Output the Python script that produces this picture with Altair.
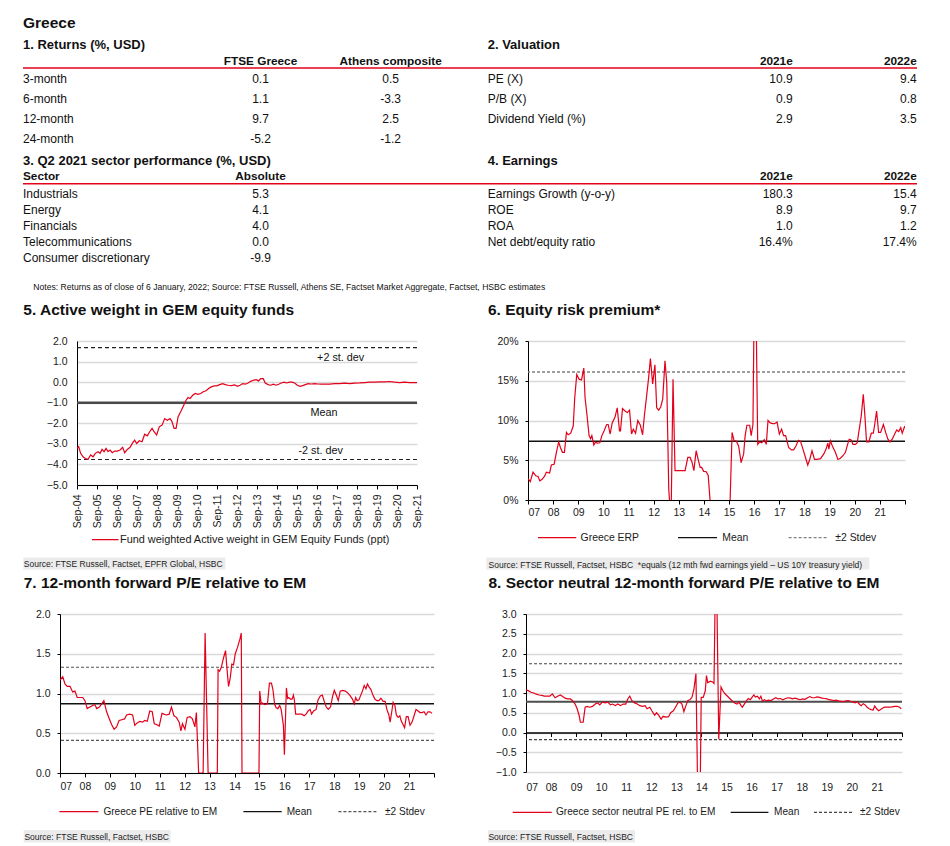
import altair as alt
import pandas as pd

# ----------------------------------------------------------------- data
returns_periods = ["3-month", "6-month", "12-month", "24-month"]
ftse_greece = [0.1, 1.1, 9.7, -5.2]
athens_composite = [0.5, -3.3, 2.5, -1.2]

valuation_items = ["PE (X)", "P/B (X)", "Dividend Yield (%)"]
valuation_2021e = [10.9, 0.9, 2.9]
valuation_2022e = [9.4, 0.8, 3.5]

sectors = ["Industrials", "Energy", "Financials", "Telecommunications", "Consumer discretionary"]
sector_absolute = [5.3, 4.1, 4.0, 0.0, -9.9]

earnings_items = ["Earnings Growth (y-o-y)", "ROE", "ROA", "Net debt/equity ratio"]
earnings_2021e = [180.3, 8.9, 1.0, 16.4]
earnings_2022e = [15.4, 9.7, 1.2, 17.4]
earnings_units = ["", "", "", "%"]

NOTE_TEXT = ("Notes: Returns as of close of 6 January, 2022; Source: FTSE Russell, Athens SE, "
             "Factset Market Aggregate, Factset, HSBC estimates")

# 5. Active weight (ppt), time in decimal years
aw_t = [2004.67, 2004.75, 2004.85, 2004.97, 2005.08, 2005.22, 2005.35, 2005.47, 2005.58, 2005.72,
        2005.82, 2005.92, 2006.02, 2006.12, 2006.22, 2006.32, 2006.43, 2006.55, 2006.68, 2006.82,
        2006.95, 2007.05, 2007.18, 2007.32, 2007.43, 2007.55, 2007.65, 2007.78, 2007.92, 2008.05,
        2008.18, 2008.30, 2008.42, 2008.52, 2008.65, 2008.78, 2008.92, 2009.05, 2009.18, 2009.32,
        2009.42, 2009.52, 2009.62, 2009.72, 2009.85, 2009.98, 2010.12, 2010.22, 2010.32, 2010.45,
        2010.58, 2010.72, 2010.85, 2010.98, 2011.12, 2011.25, 2011.38, 2011.52, 2011.65, 2011.80,
        2011.95, 2012.08, 2012.22, 2012.38, 2012.55, 2012.68, 2012.82, 2012.95, 2013.08, 2013.22,
        2013.35, 2013.48, 2013.62, 2013.75, 2013.85, 2013.98, 2014.08, 2014.22, 2014.35, 2014.48,
        2014.62, 2014.75, 2014.88, 2015.02, 2015.15, 2015.28, 2015.42, 2015.55, 2015.68, 2015.82,
        2015.95, 2016.08, 2016.22, 2016.38, 2016.55, 2016.72, 2016.88, 2017.05, 2017.30, 2017.55,
        2017.80, 2018.05, 2018.30, 2018.55, 2018.80, 2019.05, 2019.30, 2019.55, 2019.80, 2020.05,
        2020.30, 2020.55, 2020.80, 2021.05, 2021.30, 2021.55, 2021.67]
aw_v = [-3.22, -3.14, -3.46, -3.63, -3.71, -3.75, -3.54, -3.63, -3.46, -3.38,
        -3.46, -3.27, -3.38, -3.22, -3.38, -3.30, -3.43, -3.35, -3.35, -3.30,
        -3.17, -3.43, -3.27, -3.17, -2.98, -2.82, -2.98, -2.85, -2.90, -2.53,
        -2.61, -2.41, -2.25, -2.41, -2.57, -2.17, -2.09, -1.77, -1.85, -1.77,
        -1.93, -2.25, -2.25, -1.69, -1.44, -1.17, -0.88, -0.75, -0.80, -0.64,
        -0.55, -0.59, -0.55, -0.47, -0.42, -0.31, -0.23, -0.18, -0.18, -0.12,
        -0.07, -0.12, -0.15, -0.17, -0.13, -0.20, -0.15, -0.07, -0.10, -0.04,
        0.04, 0.09, 0.12, 0.06, 0.17, 0.17, -0.04, -0.12, -0.15, -0.10,
        -0.15, -0.10, -0.04, 0.00, -0.04, 0.00, 0.00, -0.04, -0.15, -0.20,
        -0.17, -0.12, -0.07, -0.09, -0.07, -0.09, -0.10, -0.09, -0.10, -0.07,
        -0.07, -0.05, -0.07, -0.05, -0.04, -0.02, 0.00, 0.00, 0.01, 0.01,
        0.03, 0.00, -0.02, 0.00, -0.02, -0.02, -0.02]
aw_stats = {"mean": -1.0, "up": 1.68, "dn": -3.76}
AW_NAME = "Fund weighted Active weight in GEM Equity Funds (ppt)"

# 6. Equity risk premium (%)
erp_t = [2007.00, 2007.09, 2007.20, 2007.31, 2007.40, 2007.47, 2007.56, 2007.66, 2007.73, 2007.86,
         2007.93, 2008.04, 2008.13, 2008.22, 2008.29, 2008.37, 2008.45, 2008.53, 2008.60, 2008.70,
         2008.80, 2008.86, 2008.94, 2009.03, 2009.13, 2009.22, 2009.27, 2009.35, 2009.43, 2009.49,
         2009.54, 2009.62, 2009.69, 2009.75, 2009.86, 2009.94, 2010.03, 2010.13, 2010.19, 2010.27,
         2010.35, 2010.46, 2010.55, 2010.64, 2010.68, 2010.76, 2010.86, 2010.95, 2011.04, 2011.12,
         2011.19, 2011.28, 2011.37, 2011.47, 2011.56, 2011.63, 2011.72, 2011.80, 2011.87, 2011.96,
         2012.05, 2012.12, 2012.20, 2012.28, 2012.36, 2012.45, 2012.52, 2012.60, 2012.64, 2012.70,
         2012.77, 2012.85, 2013.05, 2013.25, 2013.36, 2013.45, 2013.53, 2013.60, 2013.69, 2013.76,
         2013.85, 2013.91, 2013.99, 2014.09, 2014.17, 2014.25, 2014.60, 2015.04, 2015.12, 2015.20,
         2015.28, 2015.38, 2015.48, 2015.58, 2015.64, 2015.71, 2015.82, 2015.88, 2015.95, 2016.00,
         2016.07, 2016.14, 2016.22, 2016.30, 2016.40, 2016.48, 2016.55, 2016.64, 2016.73, 2016.81,
         2016.91, 2017.00, 2017.09, 2017.17, 2017.25, 2017.37, 2017.48, 2017.57, 2017.66, 2017.76,
         2017.84, 2017.94, 2018.04, 2018.13, 2018.21, 2018.30, 2018.40, 2018.50, 2018.64, 2018.77,
         2018.86, 2018.93, 2018.97, 2019.03, 2019.11, 2019.23, 2019.33, 2019.43, 2019.54, 2019.63,
         2019.70, 2019.78, 2019.86, 2019.93, 2020.03, 2020.10, 2020.16, 2020.26, 2020.34, 2020.40,
         2020.47, 2020.56, 2020.66, 2020.74, 2020.79, 2020.87, 2020.95, 2021.03, 2021.14, 2021.23,
         2021.32, 2021.40, 2021.49, 2021.59, 2021.67, 2021.75, 2021.83, 2021.89, 2021.99]
erp_v = [2.7, 2.3, 3.5, 3.05, 2.95, 2.4, 2.6, 3.0, 3.5, 3.4,
         4.4, 4.5, 6.0, 7.3, 6.6, 6.0, 6.0, 8.5, 8.2, 8.4,
         9.3, 12.9, 15.8, 15.2, 15.1, 16.6, 12.9, 10.6, 8.1, 7.7,
         8.1, 6.9, 7.3, 7.15, 7.2, 8.1, 8.7, 9.5, 9.5, 8.3,
         9.7, 10.4, 11.6, 8.7, 8.7, 11.5, 11.2, 11.0, 11.3, 8.3,
         8.9, 8.4, 10.0, 9.4, 8.2, 10.6, 13.1, 15.4, 17.8, 14.6,
         17.0, 11.6, 11.3, 11.7, 12.7, 17.5, 14.8, 1.4, -0.5, -0.5,
         15.2, 3.7, 3.7, 3.7, 5.35, 5.35, 4.7, 3.7, 6.2, 5.25,
         4.1, 4.1, 3.6, 3.55, 3.1, -0.3, -3.0, -0.3, 8.5, 7.45,
         7.45, 6.8, 4.7, 5.8, 8.1, 9.4, 9.4, 8.1, 9.5, 25.0,
         25.0, 7.0, 7.3, 7.2, 7.6, 7.0, 10.0, 9.7, 9.6, 9.6,
         9.8, 8.3, 8.9, 8.1, 8.1, 6.6, 6.3, 6.3, 6.8, 7.5,
         7.4, 6.4, 5.35, 4.4, 5.1, 6.2, 5.1, 5.1, 5.2, 5.8,
         6.4, 7.15, 6.4, 7.45, 6.8, 6.0, 5.1, 5.25, 5.6, 6.0,
         6.8, 7.65, 7.55, 7.0, 7.0, 7.2, 8.5, 10.6, 13.3, 10.8,
         7.3, 7.3, 8.4, 8.4, 9.4, 11.2, 8.5, 8.5, 9.5, 8.5,
         7.65, 7.3, 7.65, 8.3, 8.8, 8.6, 9.1, 8.4, 9.3]
erp_stats = {"mean": 7.4, "up": 16.1}

# 7. 12m fwd P/E relative to EM
pe_t = [2007.00, 2007.11, 2007.20, 2007.29, 2007.40, 2007.51, 2007.60, 2007.69, 2007.80, 2007.91,
        2008.00, 2008.09, 2008.20, 2008.31, 2008.40, 2008.47, 2008.58, 2008.67, 2008.76, 2008.87,
        2008.98, 2009.07, 2009.17, 2009.27, 2009.37, 2009.48, 2009.59, 2009.67, 2009.80, 2009.91,
        2010.00, 2010.10, 2010.20, 2010.31, 2010.40, 2010.50, 2010.60, 2010.70, 2010.78, 2010.87,
        2010.98, 2011.09, 2011.17, 2011.27, 2011.38, 2011.47, 2011.57, 2011.67, 2011.78, 2011.85,
        2011.91, 2012.01, 2012.10, 2012.21, 2012.31, 2012.41, 2012.47, 2012.56, 2012.74, 2012.82,
        2012.94, 2013.31, 2013.34, 2013.40, 2013.47, 2013.56, 2013.64, 2013.70, 2013.76, 2013.83,
        2013.89, 2013.96, 2014.03, 2014.12, 2014.22, 2014.27, 2014.30, 2014.98, 2015.01, 2015.07,
        2015.11, 2015.22, 2015.32, 2015.40, 2015.48, 2015.54, 2015.61, 2015.67, 2015.74, 2015.81,
        2015.87, 2015.96, 2016.00, 2016.08, 2016.13, 2016.17, 2016.24, 2016.31, 2016.36, 2016.40,
        2016.45, 2016.55, 2016.70, 2016.79, 2016.87, 2016.95, 2017.03, 2017.09, 2017.17, 2017.27,
        2017.35, 2017.44, 2017.52, 2017.60, 2017.68, 2017.76, 2017.85, 2017.93, 2018.00, 2018.08,
        2018.16, 2018.24, 2018.33, 2018.44, 2018.53, 2018.64, 2018.73, 2018.80, 2018.86, 2018.92,
        2018.99, 2019.05, 2019.13, 2019.20, 2019.27, 2019.33, 2019.40, 2019.47, 2019.55, 2019.63,
        2019.71, 2019.79, 2019.87, 2019.96, 2020.04, 2020.11, 2020.19, 2020.24, 2020.31, 2020.36,
        2020.43, 2020.49, 2020.56, 2020.63, 2020.68, 2020.82, 2020.89, 2020.96, 2021.04, 2021.12,
        2021.21, 2021.28, 2021.36, 2021.44, 2021.52, 2021.60, 2021.68, 2021.76, 2021.84, 2021.92]
pe_v = [1.17, 1.21, 1.12, 1.09, 1.09, 1.02, 1.03, 0.95, 0.95, 0.95,
        0.91, 0.81, 0.83, 0.85, 0.86, 0.81, 0.83, 0.87, 0.91, 0.77,
        0.68, 0.61, 0.55, 0.58, 0.66, 0.67, 0.68, 0.73, 0.74, 0.73,
        0.60, 0.63, 0.65, 0.64, 0.66, 0.65, 0.78, 0.77, 0.62, 0.61,
        0.59, 0.75, 0.74, 0.73, 0.74, 0.83, 0.72, 0.70, 0.64, 0.53,
        0.62, 0.55, 0.70, 0.71, 0.68, 0.58, 0.76, 0.0, 0.0, 1.76,
        0.0, 0.0, 1.30, 1.28, 1.33, 1.45, 1.54, 1.30, 1.09, 1.20,
        1.37, 1.36, 1.50, 1.58, 1.69, 1.76, 0.0, 0.0, 1.03, 0.87,
        0.88, 0.86, 0.87, 1.13, 1.13, 1.05, 0.86, 0.82, 0.81, 0.85,
        0.80, 0.60, 0.23, 1.07, 0.94, 0.95, 0.93, 0.93, 0.98, 0.92,
        0.74, 0.74, 0.74, 0.72, 0.74, 0.78, 0.80, 0.74, 0.78, 0.80,
        0.92, 0.97, 0.98, 0.90, 0.83, 0.80, 0.83, 0.96, 1.04, 0.98,
        0.91, 1.03, 1.04, 1.03, 1.01, 0.97, 0.93, 0.87, 0.95, 0.91,
        0.92, 0.97, 1.03, 1.10, 1.06, 1.12, 1.08, 1.05, 0.98, 0.93,
        0.91, 0.91, 0.94, 0.90, 0.90, 0.80, 0.73, 0.64, 0.78, 0.89,
        0.85, 0.73, 0.70, 0.72, 0.66, 0.57, 0.71, 0.71, 0.60, 0.64,
        0.73, 0.80, 0.78, 0.76, 0.76, 0.77, 0.73, 0.77, 0.77, 0.75]
pe_stats = {"mean": 0.87, "up": 1.33, "dn": 0.41}

# 8. Sector neutral 12m fwd P/E relative to EM
sn_t = [2007.00, 2007.09, 2007.20, 2007.31, 2007.41, 2007.52, 2007.63, 2007.73, 2007.84, 2007.95,
        2008.05, 2008.16, 2008.26, 2008.37, 2008.45, 2008.56, 2008.66, 2008.77, 2008.85, 2008.96,
        2009.04, 2009.12, 2009.17, 2009.28, 2009.36, 2009.44, 2009.54, 2009.65, 2009.76, 2009.86,
        2009.94, 2010.05, 2010.16, 2010.26, 2010.37, 2010.45, 2010.56, 2010.66, 2010.77, 2010.87,
        2010.98, 2011.06, 2011.14, 2011.22, 2011.33, 2011.44, 2011.54, 2011.65, 2011.75, 2011.83,
        2011.94, 2012.02, 2012.13, 2012.21, 2012.29, 2012.39, 2012.47, 2012.58, 2012.69, 2012.77,
        2012.88, 2012.98, 2013.06, 2013.14, 2013.22, 2013.30, 2013.38, 2013.46, 2013.54, 2013.62,
        2013.70, 2013.78, 2013.86, 2013.94, 2013.99, 2014.07, 2014.15, 2014.20, 2014.25, 2014.35,
        2014.44, 2014.50, 2014.55, 2014.61, 2014.69, 2014.78, 2014.86, 2014.94, 2015.02, 2015.10,
        2015.18, 2015.26, 2015.34, 2015.42, 2015.50, 2015.58, 2015.63, 2015.71, 2015.79, 2015.87,
        2015.95, 2016.03, 2016.09, 2016.15, 2016.23, 2016.31, 2016.37, 2016.43, 2016.51, 2016.59,
        2016.67, 2016.77, 2016.87, 2016.97, 2017.05, 2017.15, 2017.25, 2017.35, 2017.45, 2017.55,
        2017.63, 2017.73, 2017.83, 2017.93, 2018.03, 2018.13, 2018.23, 2018.33, 2018.41, 2018.51,
        2018.61, 2018.71, 2018.81, 2018.91, 2019.01, 2019.09, 2019.19, 2019.27, 2019.37, 2019.47,
        2019.57, 2019.67, 2019.77, 2019.85, 2019.95, 2020.05, 2020.13, 2020.21, 2020.31, 2020.37,
        2020.45, 2020.53, 2020.61, 2020.69, 2020.77, 2020.85, 2020.91, 2020.99, 2021.07, 2021.15,
        2021.23, 2021.31, 2021.41, 2021.51, 2021.61, 2021.71, 2021.81, 2021.91, 2021.97]
sn_v = [1.08, 1.06, 1.02, 1.00, 0.97, 0.95, 0.94, 0.92, 0.92, 0.92,
        0.98, 0.88, 0.92, 0.95, 0.92, 0.87, 0.85, 0.85, 0.81, 0.72,
        0.60, 0.43, 0.26, 0.26, 0.64, 0.66, 0.64, 0.66, 0.72, 0.75,
        0.70, 0.77, 0.75, 0.77, 0.70, 0.72, 0.68, 0.72, 0.68, 0.72,
        0.72, 0.85, 0.92, 0.81, 0.75, 0.72, 0.68, 0.66, 0.68, 0.60,
        0.64, 0.55, 0.44, 0.50, 0.44, 0.34, 0.41, 0.39, 0.40, 0.50,
        0.55, 0.66, 0.75, 0.77, 0.72, 0.53, 0.68, 0.81, 0.83, 0.89,
        1.10, 1.49, -2.0, -2.0, 0.89, 0.89, 1.05, 1.44, 1.26, 1.30,
        1.28, 1.24, 3.6, 3.6, -0.17, 1.15, 1.05, 0.98, 0.93, 0.88,
        0.83, 0.78, 0.74, 0.72, 0.77, 0.68, 0.64, 0.72, 0.80, 0.86,
        0.83, 0.90, 0.95, 0.90, 0.92, 0.85, 0.92, 0.80, 0.83, 0.80,
        0.82, 0.81, 0.85, 0.88, 0.85, 0.86, 0.83, 0.86, 0.88, 0.87,
        0.85, 0.87, 0.85, 0.83, 0.85, 0.84, 0.88, 0.91, 0.88, 0.88,
        0.90, 0.89, 0.87, 0.86, 0.85, 0.83, 0.82, 0.81, 0.82, 0.80,
        0.79, 0.78, 0.80, 0.81, 0.79, 0.77, 0.75, 0.78, 0.71, 0.68,
        0.73, 0.70, 0.64, 0.60, 0.58, 0.57, 0.67, 0.60, 0.55, 0.58,
        0.62, 0.64, 0.64, 0.64, 0.65, 0.66, 0.66, 0.64, 0.60]
sn_stats = {"mean": 0.78, "up": 1.74, "dn": -0.18}

# ----------------------------------------------------------------- style
RED = "#e3001b"
REG = "Liberation Sans, Arial, sans-serif"
BLACK = "#000000"
ONE = pd.DataFrame({"k": [0]})

# ----------------------------------------------------------------- top tables
TOP_W, TOP_H = 894, 289
L2_X = 464.7
C_FTSE, C_ATH = 237.5, 367.7
R_2021, R_2022 = 769.7, 893.7
Y_GREECE, Y_SEC1, Y_HEAD1, Y_LINE1, Y_ROW1, DY1 = 20.3, 41.3, 57.0, 60.0, 74.7, 20.0
Y_SEC2, Y_HEAD2, Y_LINE2, Y_ROW2, DY2 = 157.0, 172.0, 175.7, 189.7, 16.0
Y_NOTE = 282.0

kinds = ["h0", "h1", "hl", "hc", "hr", "cl", "cc", "cr", "note"]
items = {k: [] for k in kinds}


def add(kind, x, y, text):
    items[kind].append({"x": x, "y": y, "text": text})


add("h0", 0, Y_GREECE, "Greece")
add("h1", 0, Y_SEC1, "1. Returns (%, USD)")
add("h1", L2_X, Y_SEC1, "2. Valuation")
add("h1", 0, Y_SEC2, "3. Q2 2021 sector performance (%, USD)")
add("h1", L2_X, Y_SEC2, "4. Earnings")
add("hc", C_FTSE, Y_HEAD1, "FTSE Greece")
add("hc", C_ATH, Y_HEAD1, "Athens composite")
add("hr", R_2021, Y_HEAD1, "2021e")
add("hr", R_2022, Y_HEAD1, "2022e")
add("hl", 0, Y_HEAD2, "Sector")
add("hc", C_FTSE, Y_HEAD2, "Absolute")
add("hr", R_2021, Y_HEAD2, "2021e")
add("hr", R_2022, Y_HEAD2, "2022e")
for i, p in enumerate(returns_periods):
    y = Y_ROW1 + i * DY1
    add("cl", 0, y, p)
    add("cc", C_FTSE, y, f"{ftse_greece[i]:.1f}")
    add("cc", C_ATH, y, f"{athens_composite[i]:.1f}")
for i, it in enumerate(valuation_items):
    y = Y_ROW1 + i * DY1
    add("cl", L2_X, y, it)
    add("cr", R_2021, y, f"{valuation_2021e[i]:.1f}")
    add("cr", R_2022, y, f"{valuation_2022e[i]:.1f}")
for i, s in enumerate(sectors):
    y = Y_ROW2 + i * DY2
    add("cl", 0, y, s)
    add("cc", C_FTSE, y, f"{sector_absolute[i]:.1f}")
for i, it in enumerate(earnings_items):
    y = Y_ROW2 + i * DY2
    add("cl", L2_X, y, it)
    add("cr", R_2021, y, f"{earnings_2021e[i]:.1f}{earnings_units[i]}")
    add("cr", R_2022, y, f"{earnings_2022e[i]:.1f}{earnings_units[i]}")
add("note", 10.3, Y_NOTE, NOTE_TEXT)

text_styles = {
    "h0": dict(align="left", fontSize=15.5, fontWeight="bold"),
    "h1": dict(align="left", fontSize=13.0, fontWeight="bold"),
    "hl": dict(align="left", fontSize=11.8, fontWeight="bold"),
    "hc": dict(align="center", fontSize=11.8, fontWeight="bold"),
    "hr": dict(align="right", fontSize=11.8, fontWeight="bold"),
    "cl": dict(align="left", fontSize=12.0),
    "cc": dict(align="center", fontSize=12.0),
    "cr": dict(align="right", fontSize=12.0),
    "note": dict(align="left", fontSize=8.6),
}

top_layers = []
for k in kinds:
    top_layers.append(
        alt.Chart(pd.DataFrame(items[k]))
        .mark_text(baseline="alphabetic", font=REG, color="#111111", **text_styles[k])
        .encode(
            x=alt.X("x:Q", scale=None, axis=None),
            y=alt.Y("y:Q", scale=None, axis=None),
            text="text:N",
        )
    )
red_lines = pd.DataFrame({"x": [0, 0], "x2": [TOP_W, TOP_W], "y": [Y_LINE1, Y_LINE2]})
top_layers.append(
    alt.Chart(red_lines)
    .mark_rule(color=RED, strokeWidth=1.5)
    .encode(x=alt.X("x:Q", scale=None, axis=None), x2="x2:Q", y=alt.Y("y:Q", scale=None, axis=None))
)
top = alt.layer(*top_layers).properties(width=TOP_W, height=TOP_H)


# ----------------------------------------------------------------- helpers
def title_layer(text, x, y):
    return (
        alt.Chart(pd.DataFrame({"text": [text]}))
        .mark_text(align="left", baseline="alphabetic", font=REG, fontSize=15.5, fontWeight="bold", color="#111111")
        .encode(x=alt.value(x), y=alt.value(y), text="text:N")
    )


def source_layers(text, x, y, bx1, bx2, by1, by2):
    bg = (
        alt.Chart(ONE)
        .mark_rect(color="#ebebeb")
        .encode(x=alt.value(bx1), x2=alt.value(bx2), y=alt.value(by1), y2=alt.value(by2))
    )
    tx = (
        alt.Chart(pd.DataFrame({"text": [text]}))
        .mark_text(align="left", baseline="alphabetic", font=REG, fontSize=8.5, color="#222222")
        .encode(x=alt.value(x), y=alt.value(y), text="text:N")
    )
    return [bg, tx]


def legend_layers(entries, y, font_size=10.6):
    """entries: (label, color, dash, width, x1, x2, text_x)"""
    out = []
    for label, color, dash, sw, x1, x2, tx in entries:
        out.append(
            alt.Chart(ONE)
            .mark_rule(color=color, strokeDash=dash, strokeWidth=sw)
            .encode(x=alt.value(x1), x2=alt.value(x2), y=alt.value(y))
        )
        out.append(
            alt.Chart(pd.DataFrame({"text": [label]}))
            .mark_text(align="left", baseline="middle", font=REG, fontSize=font_size, color="#1a1a1a")
            .encode(x=alt.value(tx), y=alt.value(y), text="text:N")
        )
    return out


def spacer(w):
    return (
        alt.Chart(ONE).mark_text(text=" ", opacity=0)
        .encode(x=alt.value(0), y=alt.value(0))
        .properties(width=w, height=10)
    )


def year_x(axis):
    return alt.X("t:Q", scale=alt.Scale(domain=[2007, 2022], nice=False, zero=False), axis=axis)


YEAR_LABELS = "datum.value < 2022 ? substring(toString(datum.value), 2, 4) : ''"
SOLID = [1, 0]
DASH = [3, 2]

# ----------------------------------------------------------------- chart 5
W5, H5 = 340, 144
x5 = alt.X(
    "t:Q",
    scale=alt.Scale(domain=[2004 + 8 / 12, 2021 + 8 / 12], nice=False, zero=False),
    axis=alt.Axis(
        values=[2004 + 8 / 12 + k for k in range(18)],
        labelExpr="'Sep-' + substring(toString(floor(datum.value)), 2, 4)",
        labelAngle=270, labelAlign="right", labelBaseline="middle",
        tickSize=4, labelPadding=5, grid=False, title=None,
    ),
)
y5 = alt.Y(
    "v:Q",
    scale=alt.Scale(domain=[-5, 2], nice=False),
    axis=alt.Axis(values=list(range(-5, 3)), format=".1f", ticks=False, labelPadding=10, grid=True, title=None),
)
c5_layers = [
    alt.Chart(pd.DataFrame({"v": [aw_stats["up"], aw_stats["dn"]]}))
    .mark_rule(color="#222222", strokeWidth=1.1, strokeDash=[4, 3]).encode(y=y5),
    alt.Chart(pd.DataFrame({"v": [aw_stats["mean"]]}))
    .mark_rule(color="#4a4a4a", strokeWidth=2.4).encode(y=y5),
    alt.Chart(pd.DataFrame({"t": aw_t, "v": aw_v}))
    .mark_line(color=RED, strokeWidth=1.2, clip=True).encode(x=x5, y=y5),
]
annot_style = dict(align="center", baseline="alphabetic", font=REG, fontSize=10.8, color="#111111")
for label, tx, key, dy in [("+2 st. dev", 2017.85, "up", 13.3), ("Mean", 2017.02, "mean", 13.3),
                           ("-2 st. dev", 2016.85, "dn", -5.3)]:
    c5_layers.append(
        alt.Chart(pd.DataFrame({"t": [tx], "v": [aw_stats[key]], "label": [label]}))
        .mark_text(dy=dy, **annot_style)
        .encode(x=x5, y=y5, text="label:N")
    )
c5_layers.append(title_layer("5. Active weight in GEM equity funds", -53.7, -25.7))
c5_layers += source_layers("Source: FTSE Russell, Factset, EPFR Global, HSBC", -53.2, 225.8, -53.7, 148.3, 216.6, 228.6)
c5_layers += legend_layers([(AW_NAME, RED, SOLID, 1.2, 15.0, 41.6, 43.0)], 198.6, 10.9)
c5 = alt.layer(*c5_layers).properties(width=W5, height=H5)

# ----------------------------------------------------------------- chart 6
W6, H6 = 377, 159
x6 = year_x(alt.Axis(values=list(range(2007, 2023)), labelExpr=YEAR_LABELS, tickSize=4, labelPadding=3,
                     grid=False, title=None))
y6 = alt.Y("v:Q", scale=alt.Scale(domain=[0, 20], nice=False),
           axis=alt.Axis(values=[0, 5, 10, 15, 20], labelExpr="datum.value + '%'", tickSize=3,
                         labelPadding=7, grid=True, title=None))
c6 = alt.layer(
    alt.Chart(pd.DataFrame({"v": [erp_stats["up"]]}))
    .mark_rule(color="#808080", strokeWidth=1.5, strokeDash=DASH).encode(y=y6),
    alt.Chart(pd.DataFrame({"v": [erp_stats["mean"]]}))
    .mark_rule(color="#111111", strokeWidth=1.5).encode(y=y6),
    alt.Chart(pd.DataFrame({"t": erp_t, "v": erp_v}))
    .mark_line(color=RED, strokeWidth=1.2, clip=True).encode(x=x6, y=y6),
    title_layer("6. Equity risk premium*", -40.0, -25.7),
    *source_layers("Source: FTSE Russell, Factset, HSBC \u00a0*equals (12 mth fwd earnings yield \u2013 US 10Y treasury yield)",
                   -39.4, 226.6, -41.7, 341.3, 216.6, 228.6),
    *legend_layers([("Greece ERP", RED, SOLID, 1.2, 10.0, 48.3, 52.6),
                    ("Mean", "#111111", SOLID, 1.3, 150.0, 189.0, 194.3),
                    ("±2 Stdev", "#808080", DASH, 1.2, 260.6, 300.0, 307.3)], 196.6, 10.4),
).properties(width=W6, height=H6)

# ----------------------------------------------------------------- chart 7
W7, H7 = 374, 159
x7 = year_x(alt.Axis(values=list(range(2007, 2023)), labelExpr=YEAR_LABELS, tickSize=4, labelPadding=4,
                     grid=False, title=None))
y7 = alt.Y("v:Q", scale=alt.Scale(domain=[0, 2], nice=False),
           axis=alt.Axis(values=[0, 0.5, 1.0, 1.5, 2.0], format=".1f", tickSize=3, labelPadding=7,
                         grid=True, title=None))
c7 = alt.layer(
    alt.Chart(pd.DataFrame({"v": [pe_stats["up"], pe_stats["dn"]]}))
    .mark_rule(color="#555555", strokeWidth=1.2, strokeDash=DASH).encode(y=y7),
    alt.Chart(pd.DataFrame({"v": [pe_stats["mean"]]}))
    .mark_rule(color="#111111", strokeWidth=1.5).encode(y=y7),
    alt.Chart(pd.DataFrame({"t": pe_t, "v": pe_v}))
    .mark_line(color=RED, strokeWidth=1.2, clip=True).encode(x=x7, y=y7),
    title_layer("7. 12-month forward P/E relative to EM", -36.3, -25.6),
    *source_layers("Source: FTSE Russell, Factset, HSBC", -35.6, 225.7, -36.3, 110.7, 216.0, 228.4),
    *legend_layers([("Greece PE relative to EM", RED, SOLID, 1.2, -0.6, 38.4, 43.4),
                    ("Mean", "#111111", SOLID, 1.3, 183.4, 221.7, 226.7),
                    ("±2 Stdev", "#555555", DASH, 1.2, 278.4, 317.7, 325.0)], 197.7, 10.1),
).properties(width=W7, height=H7)

# ----------------------------------------------------------------- chart 8
W8, H8 = 376, 158
x8_zero = year_x(alt.Axis(values=list(range(2007, 2023)), orient="bottom", offset=-H8 / 4, labels=False,
                          tickSize=4, domainWidth=1.3, grid=False, title=None))
x8_lab = year_x(alt.Axis(values=list(range(2007, 2023)), orient="bottom", labelExpr=YEAR_LABELS,
                         domain=False, ticks=False, labelPadding=10, grid=False, title=None))
y8 = alt.Y("v:Q", scale=alt.Scale(domain=[-1, 3], nice=False),
           axis=alt.Axis(values=[-1, -0.5, 0, 0.5, 1, 1.5, 2, 2.5, 3], format=".1f", tickSize=3,
                         labelPadding=7, grid=True, title=None))
sn_df = pd.DataFrame({"t": sn_t, "v": sn_v})
c8 = alt.layer(
    alt.Chart(pd.DataFrame({"v": [sn_stats["up"], sn_stats["dn"]]}))
    .mark_rule(color="#444444", strokeWidth=1.2, strokeDash=DASH).encode(y=y8),
    alt.Chart(pd.DataFrame({"v": [sn_stats["mean"]]}))
    .mark_rule(color="#4d4d4d", strokeWidth=2.0).encode(y=y8),
    alt.Chart(sn_df).mark_line(color=RED, strokeWidth=1.2, clip=True).encode(x=x8_zero, y=y8),
    alt.Chart(sn_df).mark_line(opacity=0).encode(x=x8_lab, y=y8),
    title_layer("8. Sector neutral 12-month forward P/E relative to EM", -37.6, -25.6),
    *source_layers("Source: FTSE Russell, Factset, HSBC", -37.6, 225.7, -38.0, 109.0, 216.0, 228.4),
    *legend_layers([("Greece sector neutral PE rel. to EM", RED, SOLID, 1.2, -13.3, 25.7, 30.0),
                    ("Mean", "#111111", SOLID, 1.3, 204.7, 242.4, 248.0),
                    ("±2 Stdev", "#444444", DASH, 1.2, 288.0, 327.4, 334.0)], 198.4, 10.1),
).resolve_axis(x="independent").properties(width=W8, height=H8)

# ----------------------------------------------------------------- page
row2 = alt.hconcat(spacer(53.7), c5, spacer(111.0), c6, spacing=0, bounds="flush")
row3 = alt.hconcat(spacer(36.3), c7, spacer(91.7), c8, spacing=0, bounds="flush")

chart = (
    alt.vconcat(top, row2, row3, spacing=6)
    .properties(padding={"left": 14, "top": 0, "right": 4, "bottom": 4})
    .configure_view(strokeWidth=0)
    .configure_axis(
        labelFont=REG, labelFontSize=10.5, labelColor="#1a1a1a",
        domainColor=BLACK, tickColor=BLACK, gridColor="#d9d9d9", gridWidth=1.5,
    )
)

chart.save("out.html", embed_options={"renderer": "svg", "actions": False})
